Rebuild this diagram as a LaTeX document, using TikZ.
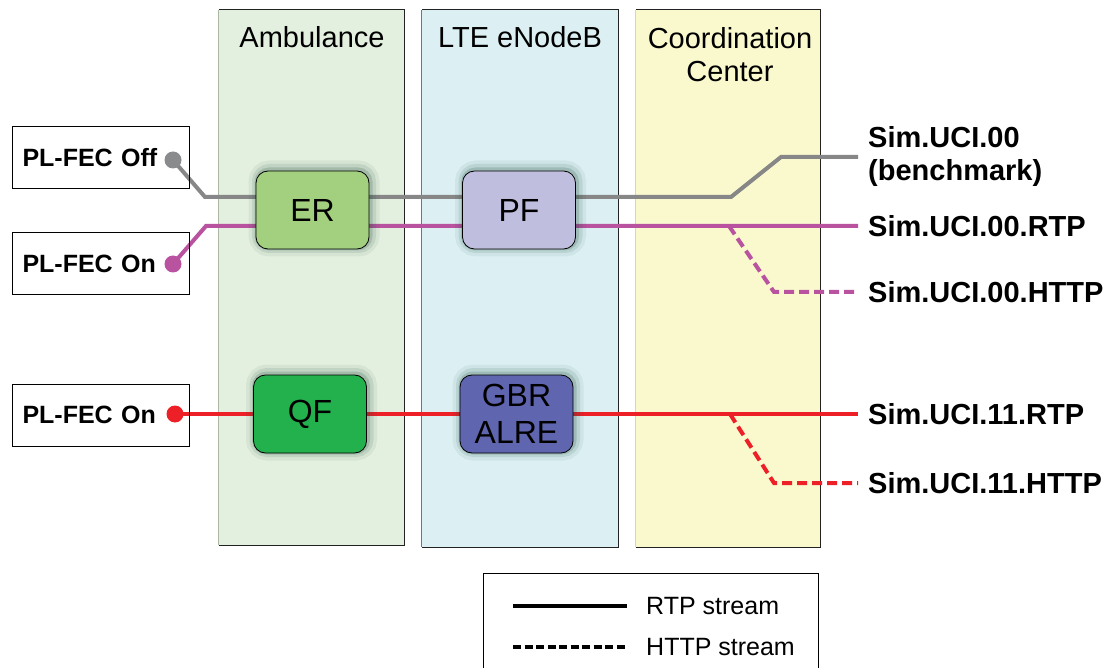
\documentclass[tikz,border=0pt]{standalone}
\usepackage{fontspec}
\setmainfont{Liberation Sans}
\usetikzlibrary{calc}
\pgfdeclarelayer{bg}
\pgfdeclarelayer{mid}
\pgfsetlayers{bg,mid,main}
\definecolor{ambfill}{HTML}{E4F0DF}
\definecolor{ltefill}{HTML}{DCF0F3}
\definecolor{ccfill}{HTML}{FAF9CE}
\definecolor{ambedge}{HTML}{A9B9A4}
\definecolor{lteedge}{HTML}{6A7A7C}
\definecolor{ccedge}{HTML}{DCD9A0}
\definecolor{coledge}{HTML}{222222}
\definecolor{ergreen}{HTML}{A2D07F}
\definecolor{qfgreen}{HTML}{22B14C}
\definecolor{pflav}{HTML}{C0BEDE}
\definecolor{gbrblue}{HTML}{5F65AE}
\definecolor{lgray}{HTML}{878787}
\definecolor{dgray}{HTML}{8A8B8D}
\definecolor{lmag}{HTML}{B9529F}
\definecolor{lred}{HTML}{EE2027}
\definecolor{glow}{HTML}{1E4A3C}
\tikzset{
  column/.style={rectangle, inner sep=0pt, fill=#1},
  header/.style={align=center, font=\fontsize{29}{33}\selectfont},
  fbox/.style={draw=black, line width=0.8pt, rounded corners=12pt, minimum width=113pt,
    minimum height=78pt, inner sep=0pt, align=center, fill=#1,
    font=\fontsize{32}{37}\selectfont,
    preaction={draw=glow, draw opacity=0.07, line width=18pt, transform canvas={xshift=1.5pt, yshift=1.5pt}},
    preaction={draw=glow, draw opacity=0.11, line width=11pt, transform canvas={xshift=1.5pt, yshift=1.5pt}},
    preaction={draw=glow, draw opacity=0.18, line width=5pt, transform canvas={xshift=1pt, yshift=1pt}}},
  srcbox/.style={draw=black, line width=1pt, anchor=west, text width=157pt, align=left,
    inner xsep=10pt, minimum height=62pt, font=\bfseries\fontsize{25}{29}\selectfont},
  dot/.style={circle, fill=#1, inner sep=0pt, minimum size=17pt},
  lab/.style={anchor=west, inner xsep=10pt, inner ysep=0pt, align=left,
    font=\bfseries\fontsize{29}{33}\selectfont},
  stream/.style={line width=4pt, draw=#1},
  http/.style={line width=4pt, draw=#1, dash pattern=on 10pt off 5pt},
  legtext/.style={anchor=west, inner xsep=19pt, inner ysep=0pt, font=\fontsize{25}{29}\selectfont}
}
\begin{document}
\begin{tikzpicture}[x=1pt, y=-1pt]
\useasboundingbox (0,0) rectangle (1114,668);
\begin{pgfonlayer}{bg}
  \fill[white] (0,0) rectangle (1114,668);
\end{pgfonlayer}

% columns
\begin{pgfonlayer}{bg}
  \node[column=ambfill, minimum width=185pt, minimum height=535pt] (amb) at (311.5,277.5) {};
  \node[column=ltefill, minimum width=196pt, minimum height=537pt] (lte) at (520,278.5) {};
  \node[column=ccfill, minimum width=184pt, minimum height=537pt] (cc) at (728,278.5) {};
  \draw[ambedge, line width=1pt] (amb.north west) -- (amb.south west);
  \draw[coledge, line width=1pt] (amb.south west) -- (amb.south east) -- (amb.north east) -- (amb.north west);
  \draw[lteedge, line width=1pt] (lte.north west) -- (lte.south west);
  \draw[coledge, line width=1pt] (lte.south west) -- (lte.south east) -- (lte.north east) -- (lte.north west);
  \draw[ccedge, line width=1pt] (cc.north west) -- (cc.south west);
  \draw[coledge, line width=1pt] (cc.south west) -- (cc.south east) -- (cc.north east) -- (cc.north west);
\end{pgfonlayer}
\node[header] (hamb) at (312,37) {Ambulance};
\node[header] (hlte) at (520,37) {LTE eNodeB};
\node[header] (hcc) at (730,55) {Coordination\\Center};

% source boxes
\node[srcbox] (soff) at (12,158) {PL-FEC Off};
\node[srcbox] (son1) at (12,264) {PL-FEC On};
\node[srcbox] (son2) at (12,415) {PL-FEC On};
\node[dot=dgray] (doff) at (173,160) {};
\node[dot=lmag] (don1) at (173,264) {};
\node[dot=lred] (don2) at (175,414) {};

% function boxes
\node[fbox=ergreen] (er) at (312.5,210) {ER};
\node[fbox=pflav] (pf) at (519,210) {PF};
\node[fbox=qfgreen] (qf) at (310,414) {QF};
\node[fbox=gbrblue] (gbr) at (516.5,414) {GBR\\ALRE};

% output labels
\node[lab] (l00) at (858,157) {Sim.UCI.00\\(benchmark)};
\node[lab] (l00rtp) at (858,226) {Sim.UCI.00.RTP};
\node[lab] (l00http) at (858,292) {Sim.UCI.00.HTTP};
\node[lab] (l11rtp) at (858,414) {Sim.UCI.11.RTP};
\node[lab] (l11http) at (858,483) {Sim.UCI.11.HTTP};

% bends
\coordinate (g1) at (205,197);
\coordinate (g2) at (731,197);
\coordinate (g3) at (781,157);
\coordinate (m1) at (206,226);
\coordinate (m2) at (729,226);
\coordinate (m3) at (774,292);
\coordinate (r2) at (730,414);
\coordinate (r3) at (774,483);

\begin{pgfonlayer}{mid}
  \draw[stream=lgray, line join=miter] (doff.center) -- (g1) -- (g2) -- (g3) -- (l00.west);
  \draw[stream=lmag] (don1.center) -- (m1) -- (m1 -| l00rtp.west);
  \draw[http=lmag] (m2) -- (m3) -- (l00http.west);
  \draw[stream=lred] (don2.center) -- (l11rtp.west);
  \draw[http=lred] (r2) -- (r3) -- (l11http.west);
\end{pgfonlayer}

% legend
\node[draw=black, line width=1pt, anchor=north west, minimum width=335pt, minimum height=130pt, inner sep=0pt] (leg) at (483,573) {};
\node[legtext] (lrtp) at (627,606) {RTP stream};
\node[legtext] (lhttp) at (627,647) {HTTP stream};
\coordinate (ls1) at (513,606);
\coordinate (ls2) at (513,647);
\draw[line width=4pt] (ls1) -- (lrtp.west);
\draw[line width=4pt, dash pattern=on 8pt off 3.5pt] (ls2) -- (lhttp.west);
\end{tikzpicture}
\end{document}
